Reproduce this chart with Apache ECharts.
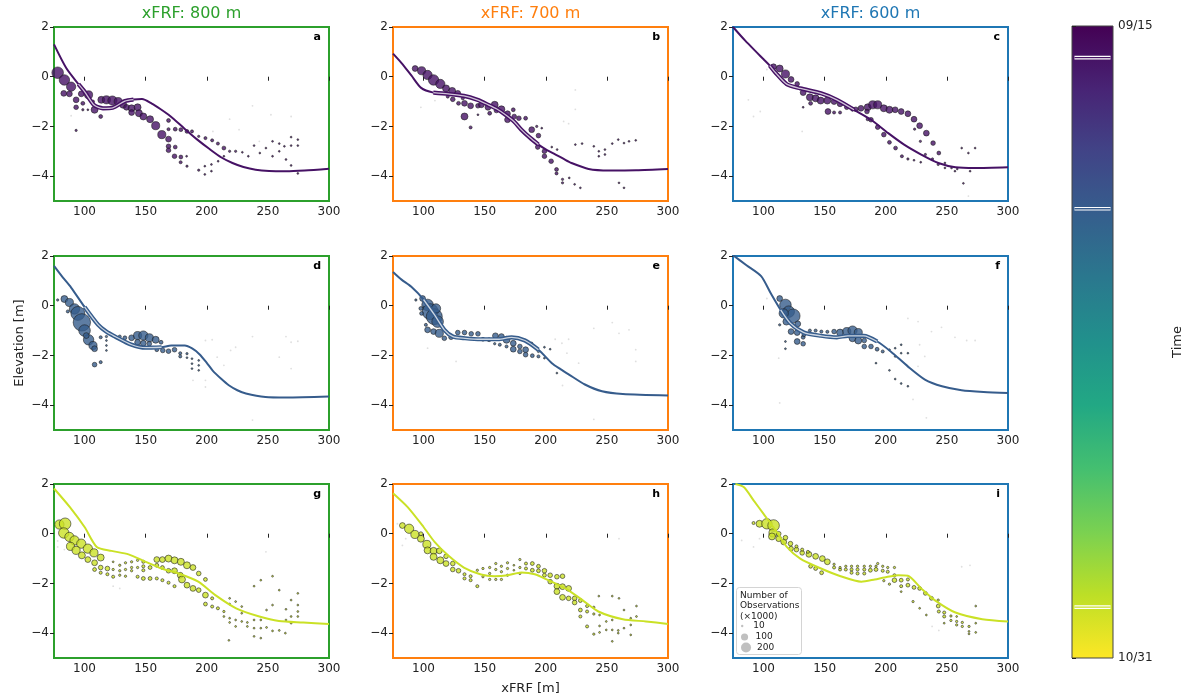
<!DOCTYPE html>
<html>
<head>
<meta charset="utf-8">
<script src="https://cdn.jsdelivr.net/npm/echarts@6/dist/echarts.min.js"></script>
<style>
  html, body { margin: 0; padding: 0; background: #fff; }
  #chart { width: 1188px; height: 698px; }
</style>
</head>
<body>
<div id="chart"></div>
<script>
// column headers and panel letters
const stations = ['xFRF: 800 m', 'xFRF: 700 m', 'xFRF: 600 m'];
const panelLetters = ['a', 'b', 'c', 'd', 'e', 'f', 'g', 'h', 'i'];

// survey day of each row, counted from 09/15 (colorbar runs 09/15 .. 10/31)
const surveyDays = [2.3, 13.3, 42.3];
const timeSpan = 46;
const timeLabels = ['09/15', '10/31'];

const xTicks = [100, 150, 200, 250, 300];
const yTicks = [-4, -2, 0, 2];
const sizeLegend = [10, 100, 200];

// part of each profile drawn with the light core
const highlight = [[95, 145], [108, 200], [105, 175], [95, 170], [98, 200], [110, 195], null, null, null];

// profiles [xFRF, elevation]
const profA = [[75,1.3],[85,0.35],[95,-0.3],[100,-0.6],[108,-1.15],[115,-1.27],[123,-1.25],[133,-0.98],[140,-0.92],[147,-0.9],[155,-1.08],[162,-1.3],[170,-1.58],[182,-2.1],[192,-2.52],[202,-2.9],[212,-3.25],[221,-3.47],[230,-3.63],[240,-3.74],[251,-3.79],[265,-3.8],[280,-3.77],[300,-3.7]];
const profB = [[75,0.93],[82,0.55],[90,0.05],[98,-0.45],[108,-0.64],[120,-0.69],[133,-0.77],[144,-0.93],[153,-1.13],[160,-1.3],[167,-1.53],[174,-1.8],[180,-2.13],[187,-2.45],[194,-2.73],[201,-2.95],[208,-3.13],[215,-3.32],[221,-3.47],[235,-3.71],[252,-3.77],[274,-3.76],[300,-3.71]];
const profC = [[75,2.0],[85,1.45],[95,0.95],[100,0.7],[105,0.45],[110,0.15],[119,-0.3],[130,-0.47],[147,-0.67],[160,-0.93],[174,-1.33],[188,-1.73],[202,-2.27],[215,-2.73],[229,-3.13],[243,-3.47],[257,-3.64],[273,-3.67],[300,-3.64]];
const profD = [[75,1.6],[82,1.15],[89,0.73],[100,-0.05],[111,-0.76],[118,-1.05],[125,-1.24],[138,-1.56],[150,-1.69],[163,-1.67],[171,-1.6],[182,-1.6],[188,-1.72],[194,-1.95],[200,-2.3],[205,-2.62],[212,-2.95],[218,-3.2],[225,-3.4],[232,-3.53],[248,-3.67],[265,-3.69],[300,-3.65]];
const profE = [[75,1.36],[82,1.05],[90,0.76],[100,0.25],[109,-0.37],[117,-0.97],[124,-1.24],[134,-1.31],[147,-1.35],[161,-1.35],[172,-1.27],[183,-1.4],[194,-1.77],[205,-2.31],[212,-2.55],[219,-2.77],[232,-3.17],[246,-3.44],[263,-3.55],[300,-3.61]];
const profF = [[75,2.03],[86,1.63],[98,1.19],[106,0.49],[114,-0.17],[122,-0.71],[133,-1.08],[147,-1.21],[160,-1.27],[169,-1.21],[182,-1.21],[193,-1.44],[204,-1.84],[218,-2.44],[232,-2.97],[246,-3.24],[262,-3.4],[280,-3.47],[300,-3.51]];
const profG = [[75,1.82],[88,1.07],[100,0.27],[110,-0.53],[122,-0.69],[136,-0.83],[150,-1.13],[163,-1.4],[177,-1.6],[193,-1.93],[207,-2.47],[224,-3.0],[243,-3.33],[259,-3.51],[279,-3.57],[300,-3.63]];
const profH = [[75,1.63],[87,1.07],[100,0.27],[109,-0.33],[120,-0.87],[133,-1.36],[147,-1.64],[158,-1.71],[169,-1.67],[180,-1.56],[191,-1.63],[202,-1.87],[216,-2.2],[230,-2.67],[243,-3.13],[263,-3.44],[282,-3.53],[300,-3.63]];
const profI = [[77,2.0],[84,1.87],[92,1.33],[100,0.8],[110,0.13],[119,-0.53],[130,-1.0],[147,-1.4],[163,-1.71],[180,-1.93],[191,-1.84],[199,-1.76],[210,-1.67],[218,-1.69],[229,-2.2],[240,-2.67],[257,-3.17],[279,-3.44],[300,-3.53]];

// observations [xFRF, elevation, count x1000]
const obsA = [[78,0.16,200],[83.5,-0.13,162],[89,-0.4,128],[83,-0.67,50],[87.6,-0.69,50],[93.1,-0.93,50],[93.1,-1.23,32],[98.6,-1.07,22],[97.3,-0.69,50],[103.3,-0.73,98],[108.2,-1.33,72],[113.2,-1.6,22],[113.7,-0.93,72],[117.9,-0.93,98],[122.8,-0.96,128],[127.5,-1,98],[131.6,-1.13,72],[134.3,-1.23,50],[138.5,-1.27,72],[138.5,-1.44,50],[143.4,-1.23,72],[144.5,-1.47,72],[148.1,-1.6,72],[153.6,-1.71,72],[158.2,-1.97,98],[163.2,-2.33,98],[168.7,-2.51,50],[168.7,-2.8,32],[168.7,-2.96,32],[174.2,-2.83,22],[173.6,-3.2,32],[178.8,-3.23,22],[178.6,-3.44,14],[183.8,-3.6,8],[183.5,-3.2,5],[168.7,-1.76,22],[174.2,-2.11,22],[178.8,-2.13,22],[183.8,-2.2,22],[168.7,-2.11,14],[187.9,-2.2,14],[193.4,-2.4,8],[198.9,-2.47,14],[204.4,-2.56,14],[209.1,-2.69,14],[214,-2.87,22],[218.7,-3,8],[223.6,-3,8],[193.4,-3.76,8],[198.4,-3.93,5],[198.4,-3.6,5],[203.8,-3.8,3.5],[93.1,-2.16,8],[98.6,-1.33,8],[106.9,-1,14],[102.7,-1.33,5],[229.1,-3.04,3],[234,-3.2,3],[238.7,-2.77,3],[243.4,-3.07,3],[248.4,-2.87,3],[253.8,-2.6,3],[259.3,-2.69,3],[263.5,-2.8,3],[269,-2.43,3],[274.5,-2.53,3],[269,-2.77,3],[274.5,-2.77,3],[253.8,-3.2,3],[264.8,-3.33,3],[269,-3.57,3],[274.5,-3.89,3],[259.3,-3,3],[209.3,-3.4,3],[214,-3.2,3],[203.8,-3.53,3]];
const obsB = [[93.1,0.33,50],[98.4,0.24,98],[103.3,0.07,128],[108.2,-0.13,162],[113.7,-0.29,128],[118.4,-0.47,72],[123.4,-0.57,72],[128,-0.67,50],[123.9,-0.91,32],[128.6,-1.07,22],[133.5,-1.07,50],[138.5,-1.17,50],[144.5,-1.17,32],[133.5,-1.6,72],[138.5,-2.04,14],[147.3,-1.13,50],[152.7,-1.23,50],[158.2,-1.13,72],[163.7,-1.31,72],[168.7,-1.49,50],[174.2,-1.6,32],[168.7,-1.73,50],[178,-1.67,32],[183.5,-1.67,22],[188.5,-2.13,50],[194,-2.37,32],[193.4,-2.83,32],[198.9,-3,32],[198.9,-3.2,32],[204.4,-3.4,32],[208.8,-3.73,22],[208.8,-3.89,14],[213.7,-4.13,8],[213.7,-4.27,8],[219.2,-4.07,5],[192.6,-2,8],[196.7,-2.07,5],[204.9,-2.83,5],[209.3,-2.93,5],[144.5,-1.53,5],[132.1,-0.87,14],[119.8,-0.8,14],[154.1,-1.47,22],[159.6,-1.36,32],[173.4,-1.33,22],[224.2,-2.73,3],[229.7,-2.69,3],[239.3,-2.8,3],[243.4,-3,3],[248.4,-2.93,3],[254.4,-2.69,3],[259.3,-2.53,3],[264,-2.67,3],[268.1,-2.6,3],[273.6,-2.56,3],[223.6,-4.33,3],[228.3,-4.47,3],[259.9,-4.27,3],[264,-4.47,3],[243.4,-3.2,3],[248.4,-3.13,3]];
const obsC = [[108.2,0.4,50],[113.2,0.33,72],[117.9,0.11,98],[122.5,-0.11,50],[127.5,-0.29,32],[132.4,-0.64,50],[137.9,-0.83,72],[142.6,-0.87,72],[146.7,-0.96,72],[152.2,-0.96,72],[157.7,-1,50],[162.6,-1.09,50],[168.1,-1.23,32],[172.8,-1.31,22],[152.7,-1.4,50],[157.7,-1.44,14],[162.6,-1.44,14],[138.5,-1.07,22],[132.4,-1.23,5],[179.7,-1.27,50],[185.2,-1.23,72],[189.3,-1.13,98],[193.4,-1.13,98],[198.4,-1.27,72],[203,-1.33,72],[207.7,-1.33,50],[212.6,-1.4,50],[218.1,-1.49,50],[223.1,-1.71,50],[227.7,-1.97,50],[233.2,-2.27,50],[238.7,-2.67,32],[243.4,-3.07,22],[223.6,-2.11,8],[228.3,-2.6,8],[232.4,-3.13,8],[238.2,-3.31,8],[242.9,-3.53,8],[248.4,-3.67,5],[253.8,-3.67,5],[258.5,-3.71,3.5],[187.9,-1.73,32],[193.4,-2.03,32],[198.4,-2.33,32],[203,-2.64,22],[208,-2.87,22],[213.2,-3.2,14],[218.1,-3.31,8],[223.1,-3.36,5],[228.6,-3.44,5],[185.2,-1.71,14],[175.5,-1.31,32],[184.6,-1.4,32],[262.1,-2.87,2.5],[267.6,-3.07,2.5],[273.1,-2.87,2.5],[263.5,-4.29,2.5],[256.6,-3.8,2.5],[269,-3.8,2.5],[248.4,-3.47,2.5]];
const obsD = [[83.5,0.27,72],[87.6,0.13,98],[91.8,-0.13,162],[94.5,-0.31,288],[97.8,-0.67,450],[100,-1,200],[103.3,-1.37,162],[106.9,-1.6,98],[108.2,-1.73,50],[78,0.23,8],[101.4,-1.2,50],[108.2,-2.37,32],[113.2,-2.27,14],[113.2,-1.27,14],[117.9,-1.24,8],[123.4,-1.2,8],[128.8,-1.24,14],[133,-1.29,22],[138.5,-1.29,50],[143.4,-1.2,98],[148.1,-1.2,128],[153,-1.29,98],[158.2,-1.37,72],[162.6,-1.47,22],[143.4,-1.47,50],[148.1,-1.51,50],[153,-1.53,32],[159.1,-1.77,22],[164,-1.8,32],[168.7,-1.83,32],[173.6,-1.77,32],[178.3,-1.91,14],[178.3,-2.04,14],[183.8,-1.93,8],[183.8,-2.09,5],[187.9,-2.13,3.5],[193.4,-2.2,3.5],[193.4,-2.4,2],[117.9,-1.4,2],[117.9,-1.6,2],[117.9,-1.8,2],[86.3,-0.23,14],[187.9,-2.33,2],[187.9,-2.53,2],[193.4,-2.6,2]];
const obsE = [[93.7,0.23,8],[99.2,0.29,50],[103.3,0.03,200],[105.5,-0.24,380],[108.8,-0.44,380],[111.5,-0.64,200],[108.2,-1.04,50],[112.9,-1.11,98],[117,-1.31,32],[122.5,-1.27,32],[97.8,-0.11,22],[98.4,-0.31,22],[101.9,-0.77,14],[128,-1.08,32],[133.5,-1.08,32],[139,-1.13,32],[144.5,-1.13,32],[148.6,-1.35,22],[153.6,-1.37,22],[158.8,-1.21,50],[163.7,-1.24,50],[167.9,-1.37,72],[173.4,-1.51,50],[173.4,-1.75,50],[178.8,-1.64,32],[178.8,-1.84,32],[183.5,-1.77,50],[183.5,-1.97,32],[189,-2.01,22],[194,-2.04,14],[194,-1.84,8],[188.5,-1.51,8],[198.9,-2.11,5],[198.9,-1.67,5],[203.6,-1.75,3.5],[209.1,-2.71,2],[162.4,-1.57,14],[167.9,-1.64,14],[158.2,-1.53,8],[110.2,-0.11,128],[103.3,-0.97,50]];
const obsF = [[113.2,0.29,50],[117.9,0.03,200],[120.6,-0.24,200],[124.2,-0.41,288],[116.5,-0.31,128],[118.7,-0.64,72],[128,-0.73,50],[122.5,-1.04,50],[127.5,-1.08,50],[127.5,-1.44,50],[132.4,-1.53,32],[132.4,-1.27,22],[117.9,-1.44,5],[117.9,-1.73,3.5],[137.9,-1,14],[142.6,-1,14],[147.3,-1.04,14],[152.2,-1.05,14],[157.7,-1.04,32],[162.6,-1.08,72],[168.1,-1.04,98],[172.8,-1,128],[177.5,-1.08,98],[172.8,-1.31,72],[177.5,-1.4,72],[182.4,-1.4,32],[182.4,-1.64,32],[187.9,-1.64,32],[192.9,-1.75,22],[197.5,-1.84,14],[192,-2.31,3.5],[203,-2.6,3.5],[207.7,-2.95,2],[212.6,-3.13,2],[218.1,-3.24,2],[203,-1.77,5],[207.7,-1.71,3.5],[212.6,-1.57,2],[218.1,-1.91,2],[113.2,-0.77,8],[133,-1.17,22],[212.6,-1.91,3.5],[207.7,-2.04,3.5]];
const obsG = [[79.4,0.37,128],[84.1,0.4,200],[83,0.03,162],[87.6,-0.13,128],[91.8,-0.27,128],[97.3,-0.4,128],[102.7,-0.6,128],[107.7,-0.77,98],[113.2,-0.96,72],[88.5,-0.51,98],[93.1,-0.67,98],[97.8,-0.87,72],[102.7,-1.04,50],[108.2,-1.17,50],[108.2,-1.44,22],[113.2,-1.36,32],[113.2,-1.57,14],[118.7,-1.4,32],[118.7,-1.63,14],[123.4,-1.13,5],[123.4,-1.44,8],[123.4,-1.73,14],[128.8,-1.27,8],[128.8,-1.49,8],[128.8,-1.67,8],[133.5,-1.17,8],[133.5,-1.44,8],[133.5,-1.71,8],[138.5,-1.13,8],[138.5,-1.36,8],[138.5,-1.49,8],[143.4,-1.07,8],[143.4,-1.36,8],[143.4,-1.73,14],[148.1,-1.13,14],[148.1,-1.31,14],[148.1,-1.47,14],[148.1,-1.8,22],[153.6,-1.36,22],[153.6,-1.8,22],[159.1,-1.04,50],[163.7,-1.04,50],[168.7,-1,72],[173.6,-1.07,72],[178.8,-1.13,72],[183.8,-1.27,72],[188.7,-1.36,50],[193.4,-1.6,32],[198.9,-1.84,22],[159.1,-1.27,22],[163.7,-1.36,22],[168.7,-1.49,32],[173.6,-1.49,50],[178.3,-1.67,50],[179.7,-1.84,72],[183.8,-2.07,50],[188.7,-2.2,50],[193.4,-2.27,32],[198.9,-2.47,50],[198.9,-2.83,22],[204.4,-2.6,14],[204.4,-2.93,14],[209.1,-3,14],[159.1,-1.8,14],[163.7,-1.87,14],[168.7,-1.97,14],[173.6,-2.11,14],[214,-3.13,8],[214,-3.33,5],[218.7,-2.6,5],[218.7,-2.83,5],[218.7,-3.4,5],[218.7,-3.57,3.5],[223.6,-2.73,3.5],[223.6,-3.47,3.5],[223.6,-3.73,3.5],[228.6,-2.93,3.5],[228.6,-3.2,3.5],[228.6,-3.53,3.5],[233.2,-3.57,5],[233.2,-3.73,5],[238.7,-3.47,5],[238.7,-3.8,5],[244.2,-3.47,5],[244.2,-3.8,5],[248.9,-3.77,5],[253.8,-3.91,5],[259.3,-3.89,5],[264.3,-4,5],[269,-3.6,5],[269,-3.33,5],[274.5,-3.13,5],[274.5,-3.33,3.5],[238.7,-2.11,2],[244.2,-1.87,2],[253.8,-1.71,2],[259.3,-2.27,2],[253.8,-2.87,2],[264.8,-3.04,2],[269,-2.67,2],[274.5,-2.4,2],[274.5,-2.87,2],[238.7,-4.13,2],[244.2,-4.2,2],[218.1,-4.29,2],[248.9,-3.07,2],[264.8,-3.47,2]];
const obsH = [[82.7,0.33,50],[88.2,0.2,128],[92.9,-0.03,98],[97.8,-0.2,72],[102.7,-0.43,98],[103.3,-0.67,72],[108.2,-0.69,72],[112.9,-0.69,50],[108.2,-0.93,72],[113.7,-1.07,72],[118.4,-0.91,32],[118.4,-1.2,50],[123.9,-1.44,32],[128.6,-1.49,32],[133.5,-1.63,14],[133.5,-1.8,14],[138.5,-1.71,14],[138.5,-1.87,14],[144,-2.11,14],[144,-1.47,8],[148.6,-1.4,8],[148.6,-1.73,8],[154.1,-1.36,8],[154.1,-1.6,8],[154.1,-1.84,8],[159.1,-1.2,8],[159.1,-1.44,8],[159.1,-1.84,8],[163.7,-1.31,8],[163.7,-1.53,8],[163.7,-1.84,8],[168.7,-1.17,8],[168.7,-1.4,8],[168.7,-1.67,8],[173.9,-1.27,5],[173.9,-1.47,5],[178.8,-1.04,8],[178.8,-1.36,8],[178.8,-1.6,8],[183.8,-1.2,14],[183.8,-1.4,14],[189,-1.2,22],[189,-1.47,22],[194,-1.31,22],[194,-1.49,22],[198.9,-1.49,32],[198.9,-1.67,22],[203.6,-1.67,32],[203.6,-1.93,32],[209.1,-1.73,32],[209.1,-2.11,50],[209.1,-2.33,50],[213.7,-1.71,32],[213.7,-2.13,50],[213.7,-2.56,50],[218.7,-2.2,50],[218.7,-2.6,32],[223.6,-2.6,32],[223.6,-2.77,32],[228.3,-2.69,22],[228.3,-3.07,22],[228.3,-3.33,14],[233.8,-2.91,14],[233.8,-3.13,14],[233.8,-3.73,14],[239.3,-2.96,8],[239.3,-3.23,8],[239.3,-4.04,8],[244,-3.27,5],[244,-3.71,5],[244,-3.97,5],[249.5,-3.53,3.5],[249.5,-3.87,3.5],[254.4,-3.47,3.5],[254.4,-3.87,3.5],[254.4,-4.33,3.5],[259.3,-3.89,3.5],[259.3,-4,3.5],[264,-3.8,3.5],[269.5,-3.4,3.5],[269.5,-3.67,3.5],[274.2,-2.91,3.5],[274.2,-3.33,3.5],[264,-3.07,3.5],[269.5,-4.07,3.5],[97.8,0,22],[123.9,-1.2,32],[243.4,-2.51,2],[254.4,-2.51,2],[259.9,-2.6,2]];
const obsI = [[91.8,0.43,14],[96.7,0.4,72],[102.7,0.4,162],[108.2,0.33,200],[107.7,0.03,98],[106.9,-0.11,72],[112.4,-0.2,50],[116.5,-0.33,50],[117.9,-0.16,32],[122,-0.4,32],[122.5,-0.6,32],[126.9,-0.64,32],[131.6,-0.77,32],[137.1,-0.83,50],[142.6,-0.91,50],[148.1,-1,50],[152.2,-1.13,50],[126.9,-0.51,14],[131.6,-0.64,14],[136.3,-0.73,14],[138.5,-1.31,22],[142.6,-1.4,22],[147.5,-1.57,22],[157.7,-1.36,14],[162.6,-1.44,14],[167.3,-1.44,14],[172,-1.44,14],[176.9,-1.44,14],[182.4,-1.44,14],[157.7,-1.23,8],[162.6,-1.36,8],[167.3,-1.31,8],[172,-1.31,8],[176.9,-1.31,8],[182.4,-1.31,8],[187.4,-1.31,8],[192,-1.31,8],[197.5,-1.31,8],[201.6,-1.36,8],[207.1,-1.36,8],[172,-1.57,14],[176.9,-1.6,14],[182.4,-1.6,14],[187.4,-1.47,22],[192,-1.44,22],[197.5,-1.49,14],[201.6,-1.53,14],[193.4,-1.2,8],[198.4,-1.89,8],[203,-2.03,8],[207.1,-1.87,32],[207.1,-1.67,14],[212.6,-1.87,22],[212.6,-2.11,14],[218.1,-2.07,22],[218.1,-1.84,14],[223.1,-2.16,22],[227.7,-2.2,22],[232.4,-2.4,22],[237.4,-2.6,22],[242.9,-2.91,22],[243.4,-3.13,14],[247.8,-3.17,14],[247.8,-3.33,14],[253.3,-3.31,8],[253.3,-3.49,8],[258,-3.53,8],[258,-3.67,8],[262.6,-3.57,8],[262.6,-3.73,8],[268.1,-3.73,8],[268.1,-3.93,5],[268.1,-4.03,5],[273.6,-3.6,5],[273.6,-3.97,5],[273.6,-2.91,5],[222.3,-2.73,8],[227.7,-3,5],[233.2,-3.27,5],[212.6,-2.33,5],[242.9,-2.67,8],[247.8,-3.6,5],[258,-3.33,3.5],[112.4,0,32]];

// very sparse bins, drawn as faint dots [xFRF, elevation]
const faintA = [[218.7,-1.71],[237.4,-1.17],[252.5,-1.53],[269,-1.6],[226.4,-2.13],[89,-1.57],[243,-2.6],[205,-2.2]];
const faintB = [[224.2,-1.31],[214.6,-1.8],[97.8,-1.23],[109.3,-0.96],[224.2,-0.53],[218.7,-1.89]];
const faintC = [[131.6,-2.2],[87.6,-0.93],[97.3,-1.4],[91.8,-1.6],[102.7,0.29],[267.6,-4.8]];
const faintD = [[188.7,-3],[198.9,-3.27],[208.5,-2.07],[214,-2.4],[219.5,-1.8],[223.6,-1.67],[237.4,-1.24],[264.8,-1.24],[269,-1.47],[274.5,-1.43],[269,-2.53],[259.3,-2.07],[237.4,-4.6],[198.9,-1.4],[204.4,-1.37],[198.9,-3]];
const faintE = [[217.3,-1.91],[218.7,-1.35],[213.7,-3.21],[239.3,-0.91],[254.4,-0.68],[268.1,-0.97],[273.6,-1.77],[226.9,-2.31],[259.9,-1.11],[273.6,-2.24],[239.3,-4.57],[126.6,-2.24],[103.3,-1.71],[207.7,-1.35],[213.2,-1.51]];
const faintF = [[218.1,-0.51],[226.4,-0.64],[237.4,-1.04],[245.6,-0.87],[256.6,-1.27],[266.2,-1.4],[273.1,-1.4],[227.7,-1.57],[231.9,-2.04],[226.4,-2.44],[222.3,-3.77],[233.2,-4.51],[113.2,-3.91],[102.7,0.29],[112.4,-2.11]];
const faintG = [[78,-0.29],[78,-0.53],[83.5,-0.64],[123.4,-2.11],[128.8,-2.2],[248.4,-0.73]];
const faintH = [[78.6,0.4],[82.7,-0.47],[85.4,-0.2],[259.9,-0.2]];
const faintI = [[82.1,-0.27],[91.8,-0.53],[96.7,-0.2],[237.9,-3.73],[243.4,-3.89],[262.1,-1.33],[268.9,-1.27]];

const profiles = [profA, profB, profC, profD, profE, profF, profG, profH, profI];
const observations = [obsA, obsB, obsC, obsD, obsE, obsF, obsG, obsH, obsI];
const sparse = [faintA, faintB, faintC, faintD, faintE, faintF, faintG, faintH, faintI];

const viridis = ['#440154', '#482475', '#414487', '#355f8d', '#2a788e', '#21918c',
                 '#22a884', '#44bf70', '#7ad151', '#bddf26', '#fde725'];
const stationColors = ['#2ca02c', '#ff7f0e', '#1f77b4'];

const gridLeft = [54, 393, 733],
      gridTop  = [27, 256, 484],
      gridW = 275,
      gridH = 174;

function hexRgb(h) {
  return [1, 3, 5].map(k => parseInt(h.substr(k, 2), 16));
}

function viridisAt(t) {
  let p = Math.min(0.9999, Math.max(0, t)) * (viridis.length - 1);
  let i = Math.floor(p), f = p - i;
  let a = hexRgb(viridis[i]), b = hexRgb(viridis[i + 1]);
  return 'rgb(' + a.map((v, k) => Math.round(v + (b[k] - v) * f)).join(',') + ')';
}

// marker diameter in px from count
function obsSize(n) {
  return Math.max(1.8, 0.82 * Math.sqrt(n));
}
function legendSize(n) {
  return Math.max(2.4, 0.71 * Math.sqrt(n));
}

function minusFmt(v) {
  return v < 0 ? '\u2212' + (-v) : String(v);
}

let grids = [], xAxes = [], yAxes = [], series = [], titles = [];

for (let i = 0; i < 9; i++) {
  let row = Math.floor(i / 3), col = i % 3;
  let color = viridisAt(surveyDays[row] / timeSpan);

  grids.push({
    left: gridLeft[col], top: gridTop[row], width: gridW, height: gridH,
    show: true, borderColor: stationColors[col], borderWidth: 2,
    backgroundColor: 'transparent'
  });

  let xa = {
    type: 'value', gridIndex: i, min: 75, max: 300,
    axisLine: {show: false},
    splitLine: {show: false},
    axisTick: {customValues: xTicks, length: 4, lineStyle: {color: '#222'}},
    axisLabel: {customValues: xTicks, fontSize: 12, color: '#222', margin: 5}
  };
  if (i === 7) {
    xa.name = 'xFRF [m]';
    xa.nameLocation = 'middle';
    xa.nameGap = 24;
    xa.nameTextStyle = {fontSize: 13, color: '#222'};
  }
  xAxes.push(xa);

  let ya = {
    type: 'value', gridIndex: i, min: -5, max: 2,
    axisLine: {show: false},
    splitLine: {show: false},
    axisTick: {customValues: yTicks, length: 4, lineStyle: {color: '#222'}},
    axisLabel: {customValues: yTicks, fontSize: 12, color: '#222', margin: 5, formatter: minusFmt}
  };
  if (i === 3) {
    ya.name = 'Elevation [m]';
    ya.nameLocation = 'middle';
    ya.nameRotate = 90;
    ya.nameGap = 28;
    ya.nameTextStyle = {fontSize: 13, color: '#222'};
  }
  yAxes.push(ya);

  series.push({
    type: 'scatter', xAxisIndex: i, yAxisIndex: i, z: 1,
    data: sparse[i], symbolSize: 1.8, silent: true,
    itemStyle: {color: 'rgba(140,140,140,0.35)'}
  });

  series.push({
    type: 'scatter', xAxisIndex: i, yAxisIndex: i, z: 2,
    data: observations[i], silent: true,
    symbolSize: d => obsSize(d[2]),
    itemStyle: {color: color, borderColor: '#1a1a1a', borderWidth: 0.7}
  });

  series.push({
    type: 'line', xAxisIndex: i, yAxisIndex: i, z: 3,
    data: profiles[i], showSymbol: false, smooth: 0.25, silent: true,
    lineStyle: {color: color, width: 2}
  });

  if (highlight[i]) {
    let lo = highlight[i][0], hi = highlight[i][1];
    let seg = profiles[i].filter(p => p[0] >= lo && p[0] <= hi);
    series.push({
      type: 'line', xAxisIndex: i, yAxisIndex: i, z: 4,
      data: seg, showSymbol: false, smooth: 0.25, silent: true,
      lineStyle: {color: color, width: 4.2}
    });
    series.push({
      type: 'line', xAxisIndex: i, yAxisIndex: i, z: 5,
      data: seg, showSymbol: false, smooth: 0.25, silent: true,
      lineStyle: {color: 'rgba(255,255,255,0.75)', width: 1.3}
    });
  }

  titles.push({
    text: panelLetters[i], padding: 0,
    left: gridLeft[col] + gridW - 8, top: gridTop[row] + 5, textAlign: 'right',
    textStyle: {fontSize: 11, fontWeight: 'bold', color: '#000'}
  });
}

stations.forEach((s, c) => {
  titles.push({
    text: s, padding: 0,
    left: gridLeft[c] + gridW / 2, top: 6, textAlign: 'center',
    textStyle: {fontSize: 16, fontWeight: 'normal', color: stationColors[c]}
  });
});

// colorbar
grids.push({
  left: 1072, top: 26, width: 41, height: 632,
  show: true, borderColor: '#444', borderWidth: 1,
  backgroundColor: new echarts.graphic.LinearGradient(0, 0, 0, 1,
    viridis.map((c, k) => ({offset: k / (viridis.length - 1), color: c})))
});
xAxes.push({type: 'value', gridIndex: 9, min: 0, max: 1, show: false});
yAxes.push({
  type: 'value', gridIndex: 9, min: 0, max: timeSpan, inverse: true, position: 'right',
  axisLine: {show: false},
  splitLine: {show: false},
  axisTick: {customValues: [0, timeSpan], length: 4, lineStyle: {color: '#222'}},
  axisLabel: {customValues: [0, timeSpan], fontSize: 12, color: '#222', margin: 5,
              formatter: v => (v === 0 ? timeLabels[0] : timeLabels[1])},
  name: 'Time', nameLocation: 'middle', nameRotate: 90, nameGap: 58,
  nameTextStyle: {fontSize: 13, color: '#222'}
});
surveyDays.forEach(d => {
  series.push({
    type: 'line', xAxisIndex: 9, yAxisIndex: 9, z: 4, silent: true,
    data: [[0.06, d], [0.94, d]], showSymbol: false,
    lineStyle: {color: '#fff', width: 3.6}
  });
  series.push({
    type: 'line', xAxisIndex: 9, yAxisIndex: 9, z: 5, silent: true,
    data: [[0.06, d], [0.94, d]], showSymbol: false,
    lineStyle: {color: viridisAt(d / timeSpan), width: 1.3}
  });
});

// size legend in panel i
sizeLegend.forEach(n => {
  series.push({
    type: 'scatter', name: String(n), xAxisIndex: 8, yAxisIndex: 8, data: [],
    itemStyle: {color: 'rgba(128,128,128,0.55)'}
  });
});
let legends = sizeLegend.map((n, k) => ({
  data: [String(n)], left: 741, top: [621.5, 632.5, 642.5][k], padding: 0,
  itemWidth: 12, itemHeight: legendSize(n), icon: 'circle', selectedMode: false, z: 12,
  itemStyle: {color: 'rgba(150,150,150,0.75)', borderWidth: 0},
  textStyle: {fontSize: 9, color: '#222'}
}));

let chart = echarts.init(document.getElementById('chart'));
chart.setOption({
  animation: false,
  textStyle: {fontFamily: 'DejaVu Sans'},
  title: titles,
  grid: grids,
  xAxis: xAxes,
  yAxis: yAxes,
  legend: legends,
  graphic: [
    {type: 'rect', z: 10, shape: {x: 736.5, y: 587.5, width: 65, height: 67, r: 3},
     style: {fill: 'rgba(255,255,255,0.85)', stroke: '#d4d4d4', lineWidth: 1}},
    {type: 'text', z: 11, x: 740, y: 590,
     style: {text: 'Number of\nObservations\n(\u00d71000)', fontSize: 9, lineHeight: 10.7,
             fill: '#222', fontFamily: 'DejaVu Sans'}}
  ],
  series: series
});
</script>
</body>
</html>
